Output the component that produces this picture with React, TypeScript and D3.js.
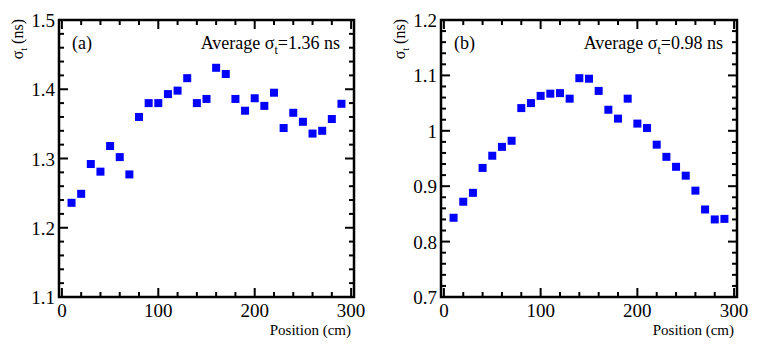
import * as d3 from 'd3'

const positions = [10, 20, 30, 40, 50, 60, 70, 80, 90, 100, 110, 120, 130, 140, 150, 160, 170, 180, 190, 200, 210, 220, 230, 240, 250, 260, 270, 280, 290]

const sigmaA = [1.236, 1.249, 1.292, 1.281, 1.318, 1.302, 1.277, 1.360, 1.380, 1.380, 1.393, 1.398, 1.416, 1.380, 1.386, 1.431, 1.422, 1.386, 1.369, 1.387, 1.376, 1.395, 1.344, 1.366, 1.353, 1.336, 1.340, 1.357, 1.379]

const sigmaB = [0.843, 0.872, 0.888, 0.933, 0.955, 0.971, 0.982, 1.041, 1.050, 1.063, 1.067, 1.068, 1.058, 1.095, 1.094, 1.072, 1.038, 1.022, 1.058, 1.013, 1.005, 0.975, 0.953, 0.935, 0.919, 0.892, 0.858, 0.840, 0.841]

const xTicks = [0, 100, 200, 300]
const yTicksA = [1.1, 1.2, 1.3, 1.4, 1.5]
const yTicksB = [0.7, 0.8, 0.9, 1, 1.1, 1.2]

const font = "'Times New Roman', Times, 'Liberation Serif', Tinos, 'Noto Serif', 'DejaVu Serif', FreeSerif, serif"

const panels = [
  { tag: '(a)', avg: '1.36', values: sigmaA, yDomain: [1.1, 1.5], yTicks: yTicksA, left: 59, right: 354 },
  { tag: '(b)', avg: '0.98', values: sigmaB, yDomain: [0.7, 1.2], yTicks: yTicksB, left: 441, right: 737 },
]

const top = 20
const bottom = 297

const Panel = ({ p }: { p: typeof panels[number] }) => {
  const x = d3.scaleLinear().domain([-3, 303]).range([p.left, p.right])
  const y = d3.scaleLinear().domain(p.yDomain).range([bottom, top])

  const xMinor = d3.range(0, 301, 20)
  const yStep = (p.yTicks[1] - p.yTicks[0]) / 5
  const yMinor = d3.range(0, Math.round((p.yDomain[1] - p.yDomain[0]) / yStep) + 1).map(i => p.yDomain[0] + i * yStep)

  return (
    <g style={{ fontFamily: font }}>
      {/* ticks on all four sides, pointing inwards */}
      {xMinor.map(v => {
        const len = v % 100 === 0 ? 9 : 5
        return (
          <g key={'x' + v} stroke="#000" strokeWidth={2}>
            <line x1={x(v)} x2={x(v)} y1={bottom} y2={bottom - len} />
            <line x1={x(v)} x2={x(v)} y1={top} y2={top + len} />
          </g>
        )
      })}
      {yMinor.map((v, i) => {
        const len = i % 5 === 0 ? 9 : 5
        return (
          <g key={'y' + i} stroke="#000" strokeWidth={2}>
            <line x1={p.left} x2={p.left + len} y1={y(v)} y2={y(v)} />
            <line x1={p.right} x2={p.right - len} y1={y(v)} y2={y(v)} />
          </g>
        )
      })}
      <rect x={p.left} y={top} width={p.right - p.left} height={bottom - top} fill="none" stroke="#000" strokeWidth={2.5} />

      {xTicks.map(v => (
        <text key={'xl' + v} x={x(v)} y={317} textAnchor="middle" fontSize={19}>{v}</text>
      ))}
      {p.yTicks.map(v => (
        <text key={'yl' + v} x={p.left - 4} y={y(v) + 7} textAnchor="end" fontSize={19}>{String(v)}</text>
      ))}

      <text x={p.right - 3} y={335} textAnchor="end" fontSize={15}>Position (cm)</text>
      <text transform={`translate(${p.left - 36},${top - 1}) rotate(-90)`} textAnchor="end" fontSize={16}>
        σ<tspan fontSize={10} dy={4}>t</tspan><tspan dy={-4}> (ns)</tspan>
      </text>

      <text x={p.left + 13} y={49} fontSize={18}>{p.tag}</text>
      <text x={p.right - 14} y={49} textAnchor="end" fontSize={18}>
        Average σ<tspan fontSize={12} dy={5}>t</tspan><tspan dy={-5}>={p.avg} ns</tspan>
      </text>

      {p.values.map((v, i) => (
        <rect key={'m' + i} x={x(positions[i]) - 4} y={y(v) - 4} width={8} height={8} fill="#0000ff" />
      ))}
    </g>
  )
}

const App = () => (
  <svg width={763} height={357} style={{ position: 'absolute', left: 0, top: 0, background: '#fff' }}>
    {panels.map(p => <Panel key={p.tag} p={p} />)}
  </svg>
)

export default App
